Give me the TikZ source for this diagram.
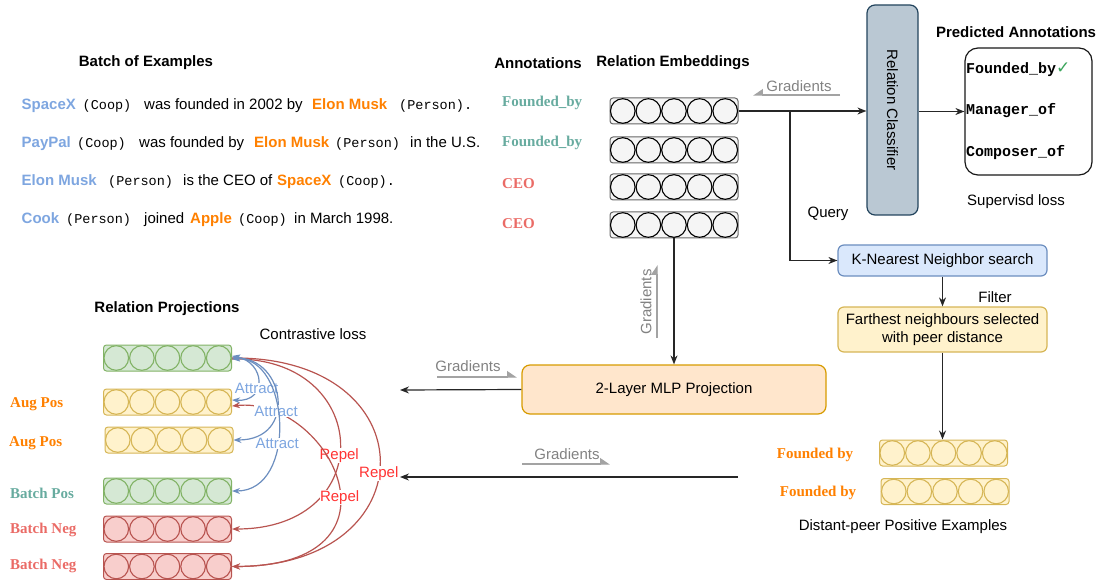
\documentclass[tikz,border=0pt]{standalone}
\usepackage{fontspec}
\setmainfont{Liberation Sans}
\setmonofont{Liberation Mono}
\newfontfamily\tms{Liberation Serif}
\newfontfamily\djv{DejaVu Sans}
\usetikzlibrary{arrows.meta}
\definecolor{entblue}{HTML}{7EA6E0}
\definecolor{entorange}{HTML}{FF8000}
\definecolor{lblgreen}{HTML}{67AB9F}
\definecolor{lblred}{HTML}{EA6B66}
\definecolor{gradgray}{HTML}{999999}
\definecolor{embfill}{HTML}{F5F5F5}
\definecolor{embline}{HTML}{666666}
\definecolor{gfill}{HTML}{D5E8D4}
\definecolor{gline}{HTML}{82B366}
\definecolor{yfill}{HTML}{FFF2CC}
\definecolor{yline}{HTML}{D6B656}
\definecolor{rfill}{HTML}{F8CECC}
\definecolor{rline}{HTML}{B85450}
\definecolor{clsfill}{HTML}{BAC8D3}
\definecolor{clsline}{HTML}{23445D}
\definecolor{knnfill}{HTML}{DAE8FC}
\definecolor{knnline}{HTML}{6C8EBF}
\definecolor{mlpfill}{HTML}{FFE6CC}
\definecolor{mlpline}{HTML}{D79B00}
\definecolor{attline}{HTML}{6C8EBF}
\definecolor{repline}{HTML}{B85450}
\definecolor{reptext}{HTML}{FF3333}
\definecolor{ckgreen}{HTML}{3BA55C}
\newcommand\fsN{\fontsize{15}{18}\selectfont}
\newcommand\fsM{\fontsize{13.5}{16}\selectfont}
\newcommand\embrow[6]{%
  \node[rowbox, fill=#4, draw=#5] (#1) at (#2,#3) {};
  \foreach \i in {0,...,4}
    \draw[draw=#6, fill=#4, line width=1.1pt] ({#2-64+12.8+25.6*\i},#3) circle[radius=12.3];
}
\begin{document}
\begin{tikzpicture}[x=1pt,y=-1pt,
  txt/.style={inner sep=0, anchor=base west, font=\fsN},
  mono/.style={inner sep=0, anchor=base west, font=\fsM\ttfamily},
  head/.style={inner sep=0, font=\fsN\bfseries},
  plain/.style={inner sep=0, font=\fsN},
  ann/.style={inner sep=0, anchor=west, font=\fsN\tms\bfseries},
  rowbox/.style={rectangle, rounded corners=3pt, minimum width=128, minimum height=26, inner sep=0, line width=1pt},
  arr/.style={-{Stealth[length=9pt,width=7pt]}, line width=1.2pt, draw=black!85},
  grad/.style={-{Triangle[harpoon,length=9pt,width=12pt]}, line width=1.3pt, draw=gradgray!90},
  gradL/.style={-{Triangle[harpoon,swap,length=9pt,width=12pt]}, line width=1.3pt, draw=gradgray!90},
  gradtxt/.style={inner sep=0, font=\fsN, text=gradgray!85!black},
  box/.style={rectangle, rounded corners=6pt, line width=1.2pt, inner sep=0, font=\fsN, align=center},
  att/.style={{Stealth[length=8pt,width=6pt]}-{Stealth[length=8pt,width=6pt]}, line width=1.2pt, draw=attline},
  rep/.style={-{Stealth[length=8pt,width=6pt]}, line width=1.2pt, draw=repline},
  attlbl/.style={fill=white, inner sep=0.5pt, font=\fsN, text=entblue},
  replbl/.style={fill=white, inner sep=0.5pt, font=\fsN, text=reptext},
]
\useasboundingbox (0,0) rectangle (1106,580);

% ---------- Batch of examples ----------
\node[head] (hBatch) at (146,63) {Batch of Examples};
\node[txt] (s1a) at (21.5,110) {\bfseries\color{entblue}SpaceX};
\node[mono] (s1b) at (82.5,110) {(Coop)};
\node[txt] (s1c) at (144,110) {was founded in 2002 by};
\node[txt] (s1d) at (312,110) {\bfseries\color{entorange}Elon Musk};
\node[mono] (s1e) at (399,110) {(Person).};

\node[txt] (s2a) at (21.5,148) {\bfseries\color{entblue}PayPal};
\node[mono] (s2b) at (77,148) {(Coop)};
\node[txt] (s2c) at (139,148) {was founded by};
\node[txt] (s2d) at (254,148) {\bfseries\color{entorange}Elon Musk};
\node[mono] (s2e) at (335,148) {(Person)};
\node[txt] (s2f) at (410,148) {in the U.S.};

\node[txt] (s3a) at (21.5,186) {\bfseries\color{entblue}Elon Musk};
\node[mono] (s3b) at (108,186) {(Person)};
\node[txt] (s3c) at (183,186) {is the CEO of};
\node[txt] (s3d) at (277,186) {\bfseries\color{entorange}SpaceX};
\node[mono] (s3e) at (338,186) {(Coop).};

\node[txt] (s4a) at (21.5,224) {\bfseries\color{entblue}Cook};
\node[mono] (s4b) at (66,224) {(Person)};
\node[txt] (s4c) at (144,224) {joined};
\node[txt] (s4d) at (190,224) {\bfseries\color{entorange}Apple};
\node[mono] (s4e) at (238,224) {(Coop)};
\node[txt] (s4f) at (294,224) {in March 1998.};

% ---------- Annotations & embeddings ----------
\node[head] (hAnn) at (538,63) {Annotations};
\node[head] (hEmb) at (673,63) {Relation Embeddings};
\node[ann, text=lblgreen] (a1) at (502,103) {Founded\_by};
\node[ann, text=lblgreen] (a2) at (502,143) {Founded\_by};
\node[ann, text=lblred] (a3) at (502,184) {CEO};
\node[ann, text=lblred] (a4) at (502,224) {CEO};

\embrow{emb1}{674}{111}{embfill}{embline}{black}
\embrow{emb2}{674}{150}{embfill}{embline}{black}
\embrow{emb3}{674}{187}{embfill}{embline}{black}
\embrow{emb4}{674}{225}{embfill}{embline}{black}

% ---------- Classifier ----------
\node[box, rounded corners=8pt, fill=clsfill, draw=clsline, minimum width=51, minimum height=210] (cls) at (892.5,110) {};
\node[inner sep=0, font=\fsN, rotate=-90] (clsT) at (cls.center) {Relation Classifier};
\node[head] (hPred) at (1016,32) {Predicted Annotations};
\node[box, rounded corners=13pt, draw=black!90, minimum width=127, minimum height=127] (pred) at (1028.5,111.5) {};
\node[inner sep=0, anchor=west, font=\fsN\ttfamily\bfseries] (p1) at (966,70) {Founded\_by{\color{ckgreen}\djv\bfseries\fontsize{17}{18}\selectfont ✓}};
\node[inner sep=0, anchor=west, font=\fsN\ttfamily\bfseries] (p2) at (966,111) {Manager\_of};
\node[inner sep=0, anchor=west, font=\fsN\ttfamily\bfseries] (p3) at (966,153) {Composer\_of};
\node[plain] (sup) at (1016,202) {Supervisd loss};

\coordinate (br) at (790,111);
\draw[arr] (emb1.east) -- (emb1.east -| cls.west);
\draw[arr] (cls.east |- pred.west) -- (pred.west);
\node[plain] (query) at (828,214) {Query};

% gradients top
\coordinate (g1s) at (840,95);
\coordinate (g1e) at (753,95);
\draw[gradL] (g1s) -- (g1e);
\node[gradtxt] (g1t) at (799,86) {Gradients};

% ---------- KNN & filter ----------
\node[box, fill=knnfill, draw=knnline, minimum width=209, minimum height=31] (knn) at (942.5,260.5) {K-Nearest Neighbor search};
\draw[arr] (br) |- (knn.west);
\node[box, fill=yfill, draw=yline, minimum width=209, minimum height=45] (far) at (942.5,329.5) {Farthest neighbours selected\\with peer distance};
\draw[arr] (knn.south) -- (far.north);
\node[plain] (filt) at (995,297) {Filter};

% distant peers
\embrow{dist1}{943.5}{453}{yfill}{yline}{yline}
\embrow{dist2}{945}{491.5}{yfill}{yline}{yline}
\draw[arr] (far.south) -- (far.south |- dist1.north);
\node[ann, anchor=center, text=entorange] (d1) at (815,455) {Founded by};
\node[ann, anchor=center, text=entorange] (d2) at (818,493) {Founded by};
\node[plain] (dpe) at (903,527) {Distant-peer Positive Examples};

% ---------- MLP ----------
\node[box, rounded corners=8pt, fill=mlpfill, draw=mlpline, minimum width=304, minimum height=49] (mlp) at (674,389.5) {2-Layer MLP Projection};
\draw[arr] (emb4.south) -- (mlp.north);
\coordinate (mlpout) at (400,390);
\draw[arr] (mlp.west) -- (mlpout);
\coordinate (dstart) at (738,477);
\coordinate (dout) at (400,477);
\draw[arr] (dstart) -- (dout);

% gradients vertical
\coordinate (g2s) at (657,338);
\coordinate (g2e) at (657,265);
\draw[grad] (g2s) -- (g2e);
\node[gradtxt, rotate=90] (g2t) at (646,302) {Gradients};
% gradients mlp
\coordinate (g3s) at (437,377);
\coordinate (g3e) at (517,377);
\draw[grad] (g3s) -- (g3e);
\node[gradtxt] (g3t) at (468,366) {Gradients};
% gradients bottom
\coordinate (g4s) at (522,464);
\coordinate (g4e) at (610,464);
\draw[grad] (g4s) -- (g4e);
\node[gradtxt] (g4t) at (567,454) {Gradients};

% ---------- Projections ----------
\node[head] (hProj) at (167,309) {Relation Projections};
\node[plain] (closs) at (313,334) {Contrastive loss};
\embrow{pr1}{167.5}{358}{gfill}{gline}{gline}
\embrow{pr2}{167.5}{402}{yfill}{yline}{yline}
\embrow{pr3}{169}{440}{yfill}{yline}{yline}
\embrow{pr4}{167.5}{491}{gfill}{gline}{gline}
\embrow{pr5}{167.5}{529}{rfill}{rline}{rline}
\embrow{pr6}{167.5}{566.5}{rfill}{rline}{rline}
\node[ann, text=entorange] (l2) at (10,404) {Aug Pos};
\node[ann, text=entorange] (l3) at (9,443) {Aug Pos};
\node[ann, text=lblgreen] (l4) at (10,493) {Batch Pos};
\node[ann, text=lblred] (l5) at (10,530) {Batch Neg};
\node[ann, text=lblred] (l6) at (10,566) {Batch Neg};

% repel curves
\draw[rep] ([yshift=-1pt]pr1.east) .. controls (372,356) and (380,529) .. (pr5.east)
  node[replbl, pos=0.55] (rp1) {Repel};
\draw[rep] (pr1.east) .. controls (429,356) and (429,566) .. (pr6.east)
  node[replbl, pos=0.54] (rp3) {Repel};
\draw[rep, {Stealth[length=8pt,width=6pt]}-{Stealth[length=8pt,width=6pt]}] ([yshift=-4pt]pr2.east) .. controls (330,396) and (415,566) .. (pr6.east)
  node[replbl, pos=0.56] (rp2) {Repel};
% attract curves
\draw[att] ([yshift=2pt]pr1.east) .. controls (265,362) and (268,402) .. ([yshift=2pt]pr2.east)
  node[attlbl, pos=0.62] (at1) {Attract};
\draw[att] (pr1.east) .. controls (285,358) and (298,440) .. (pr3.east)
  node[attlbl, pos=0.6] (at2) {Attract};
\draw[att] ([yshift=-1pt]pr1.east) .. controls (290,356) and (298,491) .. (pr4.east)
  node[attlbl, pos=0.6] (at3) {Attract};
\end{tikzpicture}
\end{document}
